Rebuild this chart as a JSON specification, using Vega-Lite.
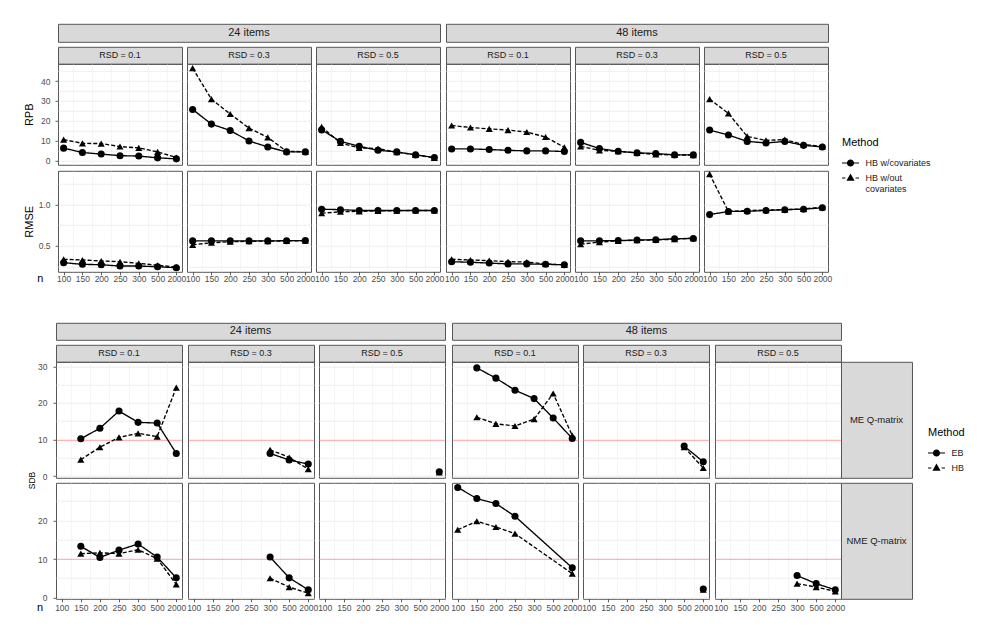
{
"$schema":"https://vega.github.io/schema/vega-lite/v6.json",
"background":"white",
"autosize":{"type":"pad"},
"padding":{"left":0,"top":22.8,"right":5,"bottom":5},
"data":{"values":[]},
"datasets":{
"t":[
{"items":24,"rsd":0.1,"metric":"RPB","Method":"HB w/covariates","n":100,"v":6.2},
{"items":24,"rsd":0.1,"metric":"RPB","Method":"HB w/covariates","n":150,"v":4.0},
{"items":24,"rsd":0.1,"metric":"RPB","Method":"HB w/covariates","n":200,"v":3.2},
{"items":24,"rsd":0.1,"metric":"RPB","Method":"HB w/covariates","n":250,"v":2.4},
{"items":24,"rsd":0.1,"metric":"RPB","Method":"HB w/covariates","n":300,"v":2.2},
{"items":24,"rsd":0.1,"metric":"RPB","Method":"HB w/covariates","n":500,"v":1.3},
{"items":24,"rsd":0.1,"metric":"RPB","Method":"HB w/covariates","n":2000,"v":0.8},
{"items":24,"rsd":0.1,"metric":"RPB","Method":"HB w/out covariates","n":100,"v":10.5},
{"items":24,"rsd":0.1,"metric":"RPB","Method":"HB w/out covariates","n":150,"v":8.6},
{"items":24,"rsd":0.1,"metric":"RPB","Method":"HB w/out covariates","n":200,"v":8.5},
{"items":24,"rsd":0.1,"metric":"RPB","Method":"HB w/out covariates","n":250,"v":7.0},
{"items":24,"rsd":0.1,"metric":"RPB","Method":"HB w/out covariates","n":300,"v":6.3},
{"items":24,"rsd":0.1,"metric":"RPB","Method":"HB w/out covariates","n":500,"v":4.3},
{"items":24,"rsd":0.1,"metric":"RPB","Method":"HB w/out covariates","n":2000,"v":1.5},
{"items":24,"rsd":0.3,"metric":"RPB","Method":"HB w/covariates","n":100,"v":25.7},
{"items":24,"rsd":0.3,"metric":"RPB","Method":"HB w/covariates","n":150,"v":18.3},
{"items":24,"rsd":0.3,"metric":"RPB","Method":"HB w/covariates","n":200,"v":15.1},
{"items":24,"rsd":0.3,"metric":"RPB","Method":"HB w/covariates","n":250,"v":9.8},
{"items":24,"rsd":0.3,"metric":"RPB","Method":"HB w/covariates","n":300,"v":6.8},
{"items":24,"rsd":0.3,"metric":"RPB","Method":"HB w/covariates","n":500,"v":4.3},
{"items":24,"rsd":0.3,"metric":"RPB","Method":"HB w/covariates","n":2000,"v":4.3},
{"items":24,"rsd":0.3,"metric":"RPB","Method":"HB w/out covariates","n":100,"v":46.5},
{"items":24,"rsd":0.3,"metric":"RPB","Method":"HB w/out covariates","n":150,"v":30.9},
{"items":24,"rsd":0.3,"metric":"RPB","Method":"HB w/out covariates","n":200,"v":23.4},
{"items":24,"rsd":0.3,"metric":"RPB","Method":"HB w/out covariates","n":250,"v":16.3},
{"items":24,"rsd":0.3,"metric":"RPB","Method":"HB w/out covariates","n":300,"v":11.6},
{"items":24,"rsd":0.3,"metric":"RPB","Method":"HB w/out covariates","n":500,"v":4.6},
{"items":24,"rsd":0.3,"metric":"RPB","Method":"HB w/out covariates","n":2000,"v":4.4},
{"items":24,"rsd":0.5,"metric":"RPB","Method":"HB w/covariates","n":100,"v":15.4},
{"items":24,"rsd":0.5,"metric":"RPB","Method":"HB w/covariates","n":150,"v":9.6},
{"items":24,"rsd":0.5,"metric":"RPB","Method":"HB w/covariates","n":200,"v":7.1},
{"items":24,"rsd":0.5,"metric":"RPB","Method":"HB w/covariates","n":250,"v":5.1},
{"items":24,"rsd":0.5,"metric":"RPB","Method":"HB w/covariates","n":300,"v":4.3},
{"items":24,"rsd":0.5,"metric":"RPB","Method":"HB w/covariates","n":500,"v":2.8},
{"items":24,"rsd":0.5,"metric":"RPB","Method":"HB w/covariates","n":2000,"v":1.5},
{"items":24,"rsd":0.5,"metric":"RPB","Method":"HB w/out covariates","n":100,"v":16.9},
{"items":24,"rsd":0.5,"metric":"RPB","Method":"HB w/out covariates","n":150,"v":8.8},
{"items":24,"rsd":0.5,"metric":"RPB","Method":"HB w/out covariates","n":200,"v":6.3},
{"items":24,"rsd":0.5,"metric":"RPB","Method":"HB w/out covariates","n":250,"v":6.0},
{"items":24,"rsd":0.5,"metric":"RPB","Method":"HB w/out covariates","n":300,"v":4.1},
{"items":24,"rsd":0.5,"metric":"RPB","Method":"HB w/out covariates","n":500,"v":2.8},
{"items":24,"rsd":0.5,"metric":"RPB","Method":"HB w/out covariates","n":2000,"v":1.3},
{"items":48,"rsd":0.1,"metric":"RPB","Method":"HB w/covariates","n":100,"v":5.8},
{"items":48,"rsd":0.1,"metric":"RPB","Method":"HB w/covariates","n":150,"v":5.8},
{"items":48,"rsd":0.1,"metric":"RPB","Method":"HB w/covariates","n":200,"v":5.5},
{"items":48,"rsd":0.1,"metric":"RPB","Method":"HB w/covariates","n":250,"v":5.1},
{"items":48,"rsd":0.1,"metric":"RPB","Method":"HB w/covariates","n":300,"v":4.8},
{"items":48,"rsd":0.1,"metric":"RPB","Method":"HB w/covariates","n":500,"v":4.8},
{"items":48,"rsd":0.1,"metric":"RPB","Method":"HB w/covariates","n":2000,"v":4.5},
{"items":48,"rsd":0.1,"metric":"RPB","Method":"HB w/out covariates","n":100,"v":17.6},
{"items":48,"rsd":0.1,"metric":"RPB","Method":"HB w/out covariates","n":150,"v":16.6},
{"items":48,"rsd":0.1,"metric":"RPB","Method":"HB w/out covariates","n":200,"v":15.9},
{"items":48,"rsd":0.1,"metric":"RPB","Method":"HB w/out covariates","n":250,"v":15.3},
{"items":48,"rsd":0.1,"metric":"RPB","Method":"HB w/out covariates","n":300,"v":14.3},
{"items":48,"rsd":0.1,"metric":"RPB","Method":"HB w/out covariates","n":500,"v":11.8},
{"items":48,"rsd":0.1,"metric":"RPB","Method":"HB w/out covariates","n":2000,"v":6.6},
{"items":48,"rsd":0.3,"metric":"RPB","Method":"HB w/covariates","n":100,"v":9.1},
{"items":48,"rsd":0.3,"metric":"RPB","Method":"HB w/covariates","n":150,"v":6.0},
{"items":48,"rsd":0.3,"metric":"RPB","Method":"HB w/covariates","n":200,"v":4.6},
{"items":48,"rsd":0.3,"metric":"RPB","Method":"HB w/covariates","n":250,"v":3.8},
{"items":48,"rsd":0.3,"metric":"RPB","Method":"HB w/covariates","n":300,"v":3.5},
{"items":48,"rsd":0.3,"metric":"RPB","Method":"HB w/covariates","n":500,"v":2.8},
{"items":48,"rsd":0.3,"metric":"RPB","Method":"HB w/covariates","n":2000,"v":2.8},
{"items":48,"rsd":0.3,"metric":"RPB","Method":"HB w/out covariates","n":100,"v":7.1},
{"items":48,"rsd":0.3,"metric":"RPB","Method":"HB w/out covariates","n":150,"v":5.1},
{"items":48,"rsd":0.3,"metric":"RPB","Method":"HB w/out covariates","n":200,"v":4.6},
{"items":48,"rsd":0.3,"metric":"RPB","Method":"HB w/out covariates","n":250,"v":3.8},
{"items":48,"rsd":0.3,"metric":"RPB","Method":"HB w/out covariates","n":300,"v":3.0},
{"items":48,"rsd":0.3,"metric":"RPB","Method":"HB w/out covariates","n":500,"v":2.8},
{"items":48,"rsd":0.3,"metric":"RPB","Method":"HB w/out covariates","n":2000,"v":2.7},
{"items":48,"rsd":0.5,"metric":"RPB","Method":"HB w/covariates","n":100,"v":15.3},
{"items":48,"rsd":0.5,"metric":"RPB","Method":"HB w/covariates","n":150,"v":12.8},
{"items":48,"rsd":0.5,"metric":"RPB","Method":"HB w/covariates","n":200,"v":9.6},
{"items":48,"rsd":0.5,"metric":"RPB","Method":"HB w/covariates","n":250,"v":8.8},
{"items":48,"rsd":0.5,"metric":"RPB","Method":"HB w/covariates","n":300,"v":9.6},
{"items":48,"rsd":0.5,"metric":"RPB","Method":"HB w/covariates","n":500,"v":7.6},
{"items":48,"rsd":0.5,"metric":"RPB","Method":"HB w/covariates","n":2000,"v":6.8},
{"items":48,"rsd":0.5,"metric":"RPB","Method":"HB w/out covariates","n":100,"v":30.9},
{"items":48,"rsd":0.5,"metric":"RPB","Method":"HB w/out covariates","n":150,"v":23.7},
{"items":48,"rsd":0.5,"metric":"RPB","Method":"HB w/out covariates","n":200,"v":12.1},
{"items":48,"rsd":0.5,"metric":"RPB","Method":"HB w/out covariates","n":250,"v":10.1},
{"items":48,"rsd":0.5,"metric":"RPB","Method":"HB w/out covariates","n":300,"v":10.5},
{"items":48,"rsd":0.5,"metric":"RPB","Method":"HB w/out covariates","n":500,"v":8.0},
{"items":48,"rsd":0.5,"metric":"RPB","Method":"HB w/out covariates","n":2000,"v":7.1},
{"items":24,"rsd":0.1,"metric":"RMSE","Method":"HB w/covariates","n":100,"v":0.295},
{"items":24,"rsd":0.1,"metric":"RMSE","Method":"HB w/covariates","n":150,"v":0.275},
{"items":24,"rsd":0.1,"metric":"RMSE","Method":"HB w/covariates","n":200,"v":0.27},
{"items":24,"rsd":0.1,"metric":"RMSE","Method":"HB w/covariates","n":250,"v":0.254},
{"items":24,"rsd":0.1,"metric":"RMSE","Method":"HB w/covariates","n":300,"v":0.254},
{"items":24,"rsd":0.1,"metric":"RMSE","Method":"HB w/covariates","n":500,"v":0.246},
{"items":24,"rsd":0.1,"metric":"RMSE","Method":"HB w/covariates","n":2000,"v":0.233},
{"items":24,"rsd":0.1,"metric":"RMSE","Method":"HB w/out covariates","n":100,"v":0.336},
{"items":24,"rsd":0.1,"metric":"RMSE","Method":"HB w/out covariates","n":150,"v":0.328},
{"items":24,"rsd":0.1,"metric":"RMSE","Method":"HB w/out covariates","n":200,"v":0.316},
{"items":24,"rsd":0.1,"metric":"RMSE","Method":"HB w/out covariates","n":250,"v":0.307},
{"items":24,"rsd":0.1,"metric":"RMSE","Method":"HB w/out covariates","n":300,"v":0.287},
{"items":24,"rsd":0.1,"metric":"RMSE","Method":"HB w/out covariates","n":500,"v":0.263},
{"items":24,"rsd":0.1,"metric":"RMSE","Method":"HB w/out covariates","n":2000,"v":0.242},
{"items":24,"rsd":0.3,"metric":"RMSE","Method":"HB w/covariates","n":100,"v":0.56},
{"items":24,"rsd":0.3,"metric":"RMSE","Method":"HB w/covariates","n":150,"v":0.56},
{"items":24,"rsd":0.3,"metric":"RMSE","Method":"HB w/covariates","n":200,"v":0.56},
{"items":24,"rsd":0.3,"metric":"RMSE","Method":"HB w/covariates","n":250,"v":0.56},
{"items":24,"rsd":0.3,"metric":"RMSE","Method":"HB w/covariates","n":300,"v":0.56},
{"items":24,"rsd":0.3,"metric":"RMSE","Method":"HB w/covariates","n":500,"v":0.562},
{"items":24,"rsd":0.3,"metric":"RMSE","Method":"HB w/covariates","n":2000,"v":0.565},
{"items":24,"rsd":0.3,"metric":"RMSE","Method":"HB w/out covariates","n":100,"v":0.512},
{"items":24,"rsd":0.3,"metric":"RMSE","Method":"HB w/out covariates","n":150,"v":0.537},
{"items":24,"rsd":0.3,"metric":"RMSE","Method":"HB w/out covariates","n":200,"v":0.55},
{"items":24,"rsd":0.3,"metric":"RMSE","Method":"HB w/out covariates","n":250,"v":0.555},
{"items":24,"rsd":0.3,"metric":"RMSE","Method":"HB w/out covariates","n":300,"v":0.558},
{"items":24,"rsd":0.3,"metric":"RMSE","Method":"HB w/out covariates","n":500,"v":0.56},
{"items":24,"rsd":0.3,"metric":"RMSE","Method":"HB w/out covariates","n":2000,"v":0.562},
{"items":24,"rsd":0.5,"metric":"RMSE","Method":"HB w/covariates","n":100,"v":0.946},
{"items":24,"rsd":0.5,"metric":"RMSE","Method":"HB w/covariates","n":150,"v":0.94},
{"items":24,"rsd":0.5,"metric":"RMSE","Method":"HB w/covariates","n":200,"v":0.93},
{"items":24,"rsd":0.5,"metric":"RMSE","Method":"HB w/covariates","n":250,"v":0.93},
{"items":24,"rsd":0.5,"metric":"RMSE","Method":"HB w/covariates","n":300,"v":0.93},
{"items":24,"rsd":0.5,"metric":"RMSE","Method":"HB w/covariates","n":500,"v":0.93},
{"items":24,"rsd":0.5,"metric":"RMSE","Method":"HB w/covariates","n":2000,"v":0.93},
{"items":24,"rsd":0.5,"metric":"RMSE","Method":"HB w/out covariates","n":100,"v":0.897},
{"items":24,"rsd":0.5,"metric":"RMSE","Method":"HB w/out covariates","n":150,"v":0.914},
{"items":24,"rsd":0.5,"metric":"RMSE","Method":"HB w/out covariates","n":200,"v":0.92},
{"items":24,"rsd":0.5,"metric":"RMSE","Method":"HB w/out covariates","n":250,"v":0.925},
{"items":24,"rsd":0.5,"metric":"RMSE","Method":"HB w/out covariates","n":300,"v":0.928},
{"items":24,"rsd":0.5,"metric":"RMSE","Method":"HB w/out covariates","n":500,"v":0.93},
{"items":24,"rsd":0.5,"metric":"RMSE","Method":"HB w/out covariates","n":2000,"v":0.93},
{"items":48,"rsd":0.1,"metric":"RMSE","Method":"HB w/covariates","n":100,"v":0.307},
{"items":48,"rsd":0.1,"metric":"RMSE","Method":"HB w/covariates","n":150,"v":0.3},
{"items":48,"rsd":0.1,"metric":"RMSE","Method":"HB w/covariates","n":200,"v":0.29},
{"items":48,"rsd":0.1,"metric":"RMSE","Method":"HB w/covariates","n":250,"v":0.28},
{"items":48,"rsd":0.1,"metric":"RMSE","Method":"HB w/covariates","n":300,"v":0.28},
{"items":48,"rsd":0.1,"metric":"RMSE","Method":"HB w/covariates","n":500,"v":0.275},
{"items":48,"rsd":0.1,"metric":"RMSE","Method":"HB w/covariates","n":2000,"v":0.27},
{"items":48,"rsd":0.1,"metric":"RMSE","Method":"HB w/out covariates","n":100,"v":0.336},
{"items":48,"rsd":0.1,"metric":"RMSE","Method":"HB w/out covariates","n":150,"v":0.328},
{"items":48,"rsd":0.1,"metric":"RMSE","Method":"HB w/out covariates","n":200,"v":0.32},
{"items":48,"rsd":0.1,"metric":"RMSE","Method":"HB w/out covariates","n":250,"v":0.307},
{"items":48,"rsd":0.1,"metric":"RMSE","Method":"HB w/out covariates","n":300,"v":0.303},
{"items":48,"rsd":0.1,"metric":"RMSE","Method":"HB w/out covariates","n":500,"v":0.28},
{"items":48,"rsd":0.1,"metric":"RMSE","Method":"HB w/out covariates","n":2000,"v":0.267},
{"items":48,"rsd":0.3,"metric":"RMSE","Method":"HB w/covariates","n":100,"v":0.561},
{"items":48,"rsd":0.3,"metric":"RMSE","Method":"HB w/covariates","n":150,"v":0.561},
{"items":48,"rsd":0.3,"metric":"RMSE","Method":"HB w/covariates","n":200,"v":0.565},
{"items":48,"rsd":0.3,"metric":"RMSE","Method":"HB w/covariates","n":250,"v":0.57},
{"items":48,"rsd":0.3,"metric":"RMSE","Method":"HB w/covariates","n":300,"v":0.575},
{"items":48,"rsd":0.3,"metric":"RMSE","Method":"HB w/covariates","n":500,"v":0.586},
{"items":48,"rsd":0.3,"metric":"RMSE","Method":"HB w/covariates","n":2000,"v":0.59},
{"items":48,"rsd":0.3,"metric":"RMSE","Method":"HB w/out covariates","n":100,"v":0.52},
{"items":48,"rsd":0.3,"metric":"RMSE","Method":"HB w/out covariates","n":150,"v":0.545},
{"items":48,"rsd":0.3,"metric":"RMSE","Method":"HB w/out covariates","n":200,"v":0.561},
{"items":48,"rsd":0.3,"metric":"RMSE","Method":"HB w/out covariates","n":250,"v":0.568},
{"items":48,"rsd":0.3,"metric":"RMSE","Method":"HB w/out covariates","n":300,"v":0.572},
{"items":48,"rsd":0.3,"metric":"RMSE","Method":"HB w/out covariates","n":500,"v":0.58},
{"items":48,"rsd":0.3,"metric":"RMSE","Method":"HB w/out covariates","n":2000,"v":0.594},
{"items":48,"rsd":0.5,"metric":"RMSE","Method":"HB w/covariates","n":100,"v":0.88},
{"items":48,"rsd":0.5,"metric":"RMSE","Method":"HB w/covariates","n":150,"v":0.918},
{"items":48,"rsd":0.5,"metric":"RMSE","Method":"HB w/covariates","n":200,"v":0.92},
{"items":48,"rsd":0.5,"metric":"RMSE","Method":"HB w/covariates","n":250,"v":0.93},
{"items":48,"rsd":0.5,"metric":"RMSE","Method":"HB w/covariates","n":300,"v":0.94},
{"items":48,"rsd":0.5,"metric":"RMSE","Method":"HB w/covariates","n":500,"v":0.946},
{"items":48,"rsd":0.5,"metric":"RMSE","Method":"HB w/covariates","n":2000,"v":0.963},
{"items":48,"rsd":0.5,"metric":"RMSE","Method":"HB w/out covariates","n":100,"v":1.372},
{"items":48,"rsd":0.5,"metric":"RMSE","Method":"HB w/out covariates","n":150,"v":0.918},
{"items":48,"rsd":0.5,"metric":"RMSE","Method":"HB w/out covariates","n":200,"v":0.93},
{"items":48,"rsd":0.5,"metric":"RMSE","Method":"HB w/out covariates","n":250,"v":0.935},
{"items":48,"rsd":0.5,"metric":"RMSE","Method":"HB w/out covariates","n":300,"v":0.94},
{"items":48,"rsd":0.5,"metric":"RMSE","Method":"HB w/out covariates","n":500,"v":0.95},
{"items":48,"rsd":0.5,"metric":"RMSE","Method":"HB w/out covariates","n":2000,"v":0.97}
],
"b":[
{"items":24,"rsd":0.1,"q":"ME","Method":"EB","n":150,"v":10.2},
{"items":24,"rsd":0.1,"q":"ME","Method":"EB","n":200,"v":13.1},
{"items":24,"rsd":0.1,"q":"ME","Method":"EB","n":250,"v":17.8},
{"items":24,"rsd":0.1,"q":"ME","Method":"EB","n":300,"v":14.7},
{"items":24,"rsd":0.1,"q":"ME","Method":"EB","n":500,"v":14.5},
{"items":24,"rsd":0.1,"q":"ME","Method":"EB","n":2000,"v":6.2},
{"items":24,"rsd":0.1,"q":"ME","Method":"HB","n":150,"v":4.5},
{"items":24,"rsd":0.1,"q":"ME","Method":"HB","n":200,"v":7.9},
{"items":24,"rsd":0.1,"q":"ME","Method":"HB","n":250,"v":10.6},
{"items":24,"rsd":0.1,"q":"ME","Method":"HB","n":300,"v":11.7},
{"items":24,"rsd":0.1,"q":"ME","Method":"HB","n":500,"v":10.8},
{"items":24,"rsd":0.1,"q":"ME","Method":"HB","n":2000,"v":24.2},
{"items":24,"rsd":0.3,"q":"ME","Method":"EB","n":300,"v":6.2},
{"items":24,"rsd":0.3,"q":"ME","Method":"EB","n":500,"v":4.4},
{"items":24,"rsd":0.3,"q":"ME","Method":"EB","n":2000,"v":3.3},
{"items":24,"rsd":0.3,"q":"ME","Method":"HB","n":300,"v":7.2},
{"items":24,"rsd":0.3,"q":"ME","Method":"HB","n":500,"v":5.1},
{"items":24,"rsd":0.3,"q":"ME","Method":"HB","n":2000,"v":1.9},
{"items":24,"rsd":0.5,"q":"ME","Method":"EB","n":2000,"v":1.2},
{"items":24,"rsd":0.5,"q":"ME","Method":"HB","n":2000,"v":1.0},
{"items":48,"rsd":0.1,"q":"ME","Method":"EB","n":150,"v":29.6},
{"items":48,"rsd":0.1,"q":"ME","Method":"EB","n":200,"v":26.8},
{"items":48,"rsd":0.1,"q":"ME","Method":"EB","n":250,"v":23.5},
{"items":48,"rsd":0.1,"q":"ME","Method":"EB","n":300,"v":21.2},
{"items":48,"rsd":0.1,"q":"ME","Method":"EB","n":500,"v":15.9},
{"items":48,"rsd":0.1,"q":"ME","Method":"EB","n":2000,"v":10.3},
{"items":48,"rsd":0.1,"q":"ME","Method":"HB","n":150,"v":16.1},
{"items":48,"rsd":0.1,"q":"ME","Method":"HB","n":200,"v":14.3},
{"items":48,"rsd":0.1,"q":"ME","Method":"HB","n":250,"v":13.7},
{"items":48,"rsd":0.1,"q":"ME","Method":"HB","n":300,"v":15.6},
{"items":48,"rsd":0.1,"q":"ME","Method":"HB","n":500,"v":22.6},
{"items":48,"rsd":0.1,"q":"ME","Method":"HB","n":2000,"v":11.1},
{"items":48,"rsd":0.3,"q":"ME","Method":"EB","n":500,"v":8.2},
{"items":48,"rsd":0.3,"q":"ME","Method":"EB","n":2000,"v":3.9},
{"items":48,"rsd":0.3,"q":"ME","Method":"HB","n":500,"v":7.9},
{"items":48,"rsd":0.3,"q":"ME","Method":"HB","n":2000,"v":2.2},
{"items":24,"rsd":0.1,"q":"NME","Method":"EB","n":150,"v":13.3},
{"items":24,"rsd":0.1,"q":"NME","Method":"EB","n":200,"v":10.4},
{"items":24,"rsd":0.1,"q":"NME","Method":"EB","n":250,"v":12.3},
{"items":24,"rsd":0.1,"q":"NME","Method":"EB","n":300,"v":13.9},
{"items":24,"rsd":0.1,"q":"NME","Method":"EB","n":500,"v":10.5},
{"items":24,"rsd":0.1,"q":"NME","Method":"EB","n":2000,"v":5.1},
{"items":24,"rsd":0.1,"q":"NME","Method":"HB","n":150,"v":11.4},
{"items":24,"rsd":0.1,"q":"NME","Method":"HB","n":200,"v":11.6},
{"items":24,"rsd":0.1,"q":"NME","Method":"HB","n":250,"v":11.4},
{"items":24,"rsd":0.1,"q":"NME","Method":"HB","n":300,"v":12.4},
{"items":24,"rsd":0.1,"q":"NME","Method":"HB","n":500,"v":10.1},
{"items":24,"rsd":0.1,"q":"NME","Method":"HB","n":2000,"v":3.4},
{"items":24,"rsd":0.3,"q":"NME","Method":"EB","n":300,"v":10.5},
{"items":24,"rsd":0.3,"q":"NME","Method":"EB","n":500,"v":5.1},
{"items":24,"rsd":0.3,"q":"NME","Method":"EB","n":2000,"v":2.0},
{"items":24,"rsd":0.3,"q":"NME","Method":"HB","n":300,"v":5.0},
{"items":24,"rsd":0.3,"q":"NME","Method":"HB","n":500,"v":2.7},
{"items":24,"rsd":0.3,"q":"NME","Method":"HB","n":2000,"v":1.1},
{"items":48,"rsd":0.1,"q":"NME","Method":"EB","n":100,"v":28.6},
{"items":48,"rsd":0.1,"q":"NME","Method":"EB","n":150,"v":25.7},
{"items":48,"rsd":0.1,"q":"NME","Method":"EB","n":200,"v":24.4},
{"items":48,"rsd":0.1,"q":"NME","Method":"EB","n":250,"v":21.1},
{"items":48,"rsd":0.1,"q":"NME","Method":"EB","n":2000,"v":7.7},
{"items":48,"rsd":0.1,"q":"NME","Method":"HB","n":100,"v":17.6},
{"items":48,"rsd":0.1,"q":"NME","Method":"HB","n":150,"v":19.8},
{"items":48,"rsd":0.1,"q":"NME","Method":"HB","n":200,"v":18.3},
{"items":48,"rsd":0.1,"q":"NME","Method":"HB","n":250,"v":16.6},
{"items":48,"rsd":0.1,"q":"NME","Method":"HB","n":2000,"v":6.2},
{"items":48,"rsd":0.3,"q":"NME","Method":"EB","n":2000,"v":2.2},
{"items":48,"rsd":0.3,"q":"NME","Method":"HB","n":2000,"v":2.0},
{"items":48,"rsd":0.5,"q":"NME","Method":"EB","n":300,"v":5.7},
{"items":48,"rsd":0.5,"q":"NME","Method":"EB","n":500,"v":3.6},
{"items":48,"rsd":0.5,"q":"NME","Method":"EB","n":2000,"v":2.0},
{"items":48,"rsd":0.5,"q":"NME","Method":"HB","n":300,"v":3.6},
{"items":48,"rsd":0.5,"q":"NME","Method":"HB","n":500,"v":2.7},
{"items":48,"rsd":0.5,"q":"NME","Method":"HB","n":2000,"v":1.6}
]},
"spacing":3,
"resolve":{"scale":{"shape":"independent","strokeDash":"independent"}},
"config":{
"font":"Liberation Sans",
"view":{"stroke":null},
"axis":{"grid":true,"gridColor":"#ebebeb","gridWidth":0.8,"domain":false,"ticks":false,"labels":false,"labelFontSize":8.5,"labelColor":"#4d4d4d","tickColor":"#333","tickSize":3,"tickWidth":0.8,"labelPadding":1,"titleFontSize":11,"titleFontWeight":"normal","titleColor":"black"},
"axisX":{"labelAngle":0,"labelOverlap":false},
"axisY":{"labelOverlap":false},
"axisPoint":{"grid":true},
"scale":{"pointPadding":0.3},
"range":{"symbol":["circle","triangle-up"]},
"line":{"color":"black","strokeWidth":1.35},
"point":{"color":"black","filled":true,"opacity":1,"size":50},
"text":{"color":"#1a1a1a"},
"legend":{"orient":"none","titleFontSize":11,"titleFontWeight":"normal","titleColor":"black","labelFontSize":9,"labelColor":"#1a1a1a","symbolSize":289,"symbolStrokeWidth":0,"symbolFillColor":"black","labelOffset":6.5,"rowPadding":1,"titlePadding":6,"padding":0}
},
"vconcat":[
{"hconcat":[
{"width":58,"height":18,"view":{"fill":"white"},"mark":"point"},
{"width":382,"height":18,"view":{"fill":"#d9d9d9","stroke":"#555"},"data":{"values":[{"t":"24 items"}]},"mark":{"type":"text","fontSize":11},"encoding":{"text":{"field":"t","type":"nominal"}}},
{"width":6,"height":1,"mark":"point"},
{"width":382,"height":18,"view":{"fill":"#d9d9d9","stroke":"#555"},"data":{"values":[{"t":"48 items"}]},"mark":{"type":"text","fontSize":11},"encoding":{"text":{"field":"t","type":"nominal"}}}
],"spacing":0,"bounds":"flush"},

{"columns":13,"spacing":0,"bounds":"flush","align":"each","resolve":{"scale":{"shape":"independent","strokeDash":"independent"}},"concat":[
{"width":58,"height":17,"view":{"fill":"white"},"mark":"point"},
{"width":124,"height":17,"view":{"fill":"#d9d9d9","stroke":"#555"},"data":{"values":[{"t":"RSD = 0.1"}]},"mark":{"type":"text","fontSize":9},"encoding":{"text":{"field":"t","type":"nominal"}}},
{"width":5,"height":1,"mark":"point"},
{"width":124,"height":17,"view":{"fill":"#d9d9d9","stroke":"#555"},"data":{"values":[{"t":"RSD = 0.3"}]},"mark":{"type":"text","fontSize":9},"encoding":{"text":{"field":"t","type":"nominal"}}},
{"width":5,"height":1,"mark":"point"},
{"width":124,"height":17,"view":{"fill":"#d9d9d9","stroke":"#555"},"data":{"values":[{"t":"RSD = 0.5"}]},"mark":{"type":"text","fontSize":9},"encoding":{"text":{"field":"t","type":"nominal"}}},
{"width":6,"height":1,"mark":"point"},
{"width":124,"height":17,"view":{"fill":"#d9d9d9","stroke":"#555"},"data":{"values":[{"t":"RSD = 0.1"}]},"mark":{"type":"text","fontSize":9},"encoding":{"text":{"field":"t","type":"nominal"}}},
{"width":5,"height":1,"mark":"point"},
{"width":124,"height":17,"view":{"fill":"#d9d9d9","stroke":"#555"},"data":{"values":[{"t":"RSD = 0.3"}]},"mark":{"type":"text","fontSize":9},"encoding":{"text":{"field":"t","type":"nominal"}}},
{"width":5,"height":1,"mark":"point"},
{"width":124,"height":17,"view":{"fill":"#d9d9d9","stroke":"#555"},"data":{"values":[{"t":"RSD = 0.5"}]},"mark":{"type":"text","fontSize":9},"encoding":{"text":{"field":"t","type":"nominal"}}},
{"width":1,"height":1,"mark":"point"},

{"width":58,"height":107,"view":{"fill":"white"},"mark":"point"},
{"width":124,"height":101,"view":{"stroke":"#555"},"resolve":{"scale":{"x":"independent"},"axis":{"x":"independent"}},"layer":[{"data":{"values":[]},"mark":"point","encoding":{"x":{"datum":1,"type":"quantitative","scale":{"domain":[0.7,7.3]},"axis":{"orient":"top","values":[1.5,2.5,3.5,4.5,5.5,6.5],"title":null,"gridWidth":0.5}}}},{"data":{"name":"t"},"transform":[{"filter":"datum.items==24&&datum.rsd==0.1&&datum.metric=='RPB'"}],"encoding":{"x":{"field":"n","type":"ordinal","title":null},"y":{"field":"v","type":"quantitative","scale":{"domain":[-2.2,48.7]},"axis":{"values":[0,5,10,15,20,25,30,35,40,45],"labels":true,"ticks":true,"labelPadding":5,"labelExpr":"datum.value%10?'':datum.label","tickOpacity":{"condition":{"test":"datum.value%10!=0","value":0},"value":1},"title":"RPB","titleX":-28.3,"titleBaseline":"middle"}}},"layer":[{"mark":"line","encoding":{"strokeDash":{"field":"Method","type":"nominal","legend":null}}},{"mark":"point","encoding":{"shape":{"field":"Method","type":"nominal","legend":null}}}]}]},
{"width":5,"height":1,"mark":"point"},
{"width":124,"height":101,"view":{"stroke":"#555"},"resolve":{"scale":{"x":"independent"},"axis":{"x":"independent"}},"layer":[{"data":{"values":[]},"mark":"point","encoding":{"x":{"datum":1,"type":"quantitative","scale":{"domain":[0.7,7.3]},"axis":{"orient":"top","values":[1.5,2.5,3.5,4.5,5.5,6.5],"title":null,"gridWidth":0.5}}}},{"data":{"name":"t"},"transform":[{"filter":"datum.items==24&&datum.rsd==0.3&&datum.metric=='RPB'"}],"encoding":{"x":{"field":"n","type":"ordinal","title":null},"y":{"field":"v","type":"quantitative","title":null,"scale":{"domain":[-2.2,48.7]},"axis":{"values":[0,5,10,15,20,25,30,35,40,45]}}},"layer":[{"mark":"line","encoding":{"strokeDash":{"field":"Method","type":"nominal","legend":null}}},{"mark":"point","encoding":{"shape":{"field":"Method","type":"nominal","legend":null}}}]}]},
{"width":5,"height":1,"mark":"point"},
{"width":124,"height":101,"view":{"stroke":"#555"},"resolve":{"scale":{"x":"independent"},"axis":{"x":"independent"}},"layer":[{"data":{"values":[]},"mark":"point","encoding":{"x":{"datum":1,"type":"quantitative","scale":{"domain":[0.7,7.3]},"axis":{"orient":"top","values":[1.5,2.5,3.5,4.5,5.5,6.5],"title":null,"gridWidth":0.5}}}},{"data":{"name":"t"},"transform":[{"filter":"datum.items==24&&datum.rsd==0.5&&datum.metric=='RPB'"}],"encoding":{"x":{"field":"n","type":"ordinal","title":null},"y":{"field":"v","type":"quantitative","title":null,"scale":{"domain":[-2.2,48.7]},"axis":{"values":[0,5,10,15,20,25,30,35,40,45]}}},"layer":[{"mark":"line","encoding":{"strokeDash":{"field":"Method","type":"nominal","legend":null}}},{"mark":"point","encoding":{"shape":{"field":"Method","type":"nominal","legend":null}}}]}]},
{"width":6,"height":1,"mark":"point"},
{"width":124,"height":101,"view":{"stroke":"#555"},"resolve":{"scale":{"x":"independent"},"axis":{"x":"independent"}},"layer":[{"data":{"values":[]},"mark":"point","encoding":{"x":{"datum":1,"type":"quantitative","scale":{"domain":[0.7,7.3]},"axis":{"orient":"top","values":[1.5,2.5,3.5,4.5,5.5,6.5],"title":null,"gridWidth":0.5}}}},{"data":{"name":"t"},"transform":[{"filter":"datum.items==48&&datum.rsd==0.1&&datum.metric=='RPB'"}],"encoding":{"x":{"field":"n","type":"ordinal","title":null},"y":{"field":"v","type":"quantitative","title":null,"scale":{"domain":[-2.2,48.7]},"axis":{"values":[0,5,10,15,20,25,30,35,40,45]}}},"layer":[{"mark":"line","encoding":{"strokeDash":{"field":"Method","type":"nominal","legend":null}}},{"mark":"point","encoding":{"shape":{"field":"Method","type":"nominal","legend":null}}}]}]},
{"width":5,"height":1,"mark":"point"},
{"width":124,"height":101,"view":{"stroke":"#555"},"resolve":{"scale":{"x":"independent"},"axis":{"x":"independent"}},"layer":[{"data":{"values":[]},"mark":"point","encoding":{"x":{"datum":1,"type":"quantitative","scale":{"domain":[0.7,7.3]},"axis":{"orient":"top","values":[1.5,2.5,3.5,4.5,5.5,6.5],"title":null,"gridWidth":0.5}}}},{"data":{"name":"t"},"transform":[{"filter":"datum.items==48&&datum.rsd==0.3&&datum.metric=='RPB'"}],"encoding":{"x":{"field":"n","type":"ordinal","title":null},"y":{"field":"v","type":"quantitative","title":null,"scale":{"domain":[-2.2,48.7]},"axis":{"values":[0,5,10,15,20,25,30,35,40,45]}}},"layer":[{"mark":"line","encoding":{"strokeDash":{"field":"Method","type":"nominal","legend":null}}},{"mark":"point","encoding":{"shape":{"field":"Method","type":"nominal","legend":null}}}]}]},
{"width":5,"height":1,"mark":"point"},
{"width":124,"height":101,"view":{"stroke":"#555"},"resolve":{"scale":{"x":"independent"},"axis":{"x":"independent"}},"layer":[{"data":{"values":[]},"mark":"point","encoding":{"x":{"datum":1,"type":"quantitative","scale":{"domain":[0.7,7.3]},"axis":{"orient":"top","values":[1.5,2.5,3.5,4.5,5.5,6.5],"title":null,"gridWidth":0.5}}}},{"data":{"name":"t"},"transform":[{"filter":"datum.items==48&&datum.rsd==0.5&&datum.metric=='RPB'"}],"encoding":{"x":{"field":"n","type":"ordinal","title":null},"y":{"field":"v","type":"quantitative","title":null,"scale":{"domain":[-2.2,48.7]},"axis":{"values":[0,5,10,15,20,25,30,35,40,45]}}},"layer":[{"mark":"line","encoding":{"strokeDash":{"field":"Method","type":"nominal","legend":null}}},{"mark":"point","encoding":{"shape":{"field":"Method","type":"nominal","legend":null}}}]}]},
{"width":1,"height":1,"mark":{"type":"point","filled":true,"color":"black","size":289},"encoding":{"shape":{"field":"Method","type":"nominal","scale":{"domain":["HB w/covariates","HB w/out covariates"],"range":["M-1,-0.07H1V0.07H-1ZM0.42,0A0.42,0.42,0,1,1,-0.42,0A0.42,0.42,0,1,1,0.42,0Z","M-1,-0.07H-0.6V0.07H-1ZM0.6,-0.07H1V0.07H0.6ZM0,-0.52L0.48,0.32H-0.48Z"]},"legend":{"title":"Method","legendX":14,"legendY":73.7,"symbolSize":289,"labelExpr":"datum.label=='HB w/out covariates'?['HB w/out','covariates']:datum.label"}}}},

{"width":58,"height":148,"view":{"fill":"white"},"mark":"point"},
{"width":124,"height":101,"view":{"stroke":"#555"},"resolve":{"scale":{"x":"independent"},"axis":{"x":"independent"}},"layer":[{"data":{"values":[]},"mark":"point","encoding":{"x":{"datum":1,"type":"quantitative","scale":{"domain":[0.7,7.3]},"axis":{"orient":"top","values":[1.5,2.5,3.5,4.5,5.5,6.5],"title":null,"gridWidth":0.5}}}},{"data":{"name":"t"},"transform":[{"filter":"datum.items==24&&datum.rsd==0.1&&datum.metric=='RMSE'"}],"encoding":{"x":{"field":"n","type":"ordinal","axis":{"labels":true,"ticks":true,"labelPadding":0,"title":"n","titleX":-18.3,"titleY":6.7,"titleBaseline":"middle","titleAlign":"center"}},"y":{"field":"v","type":"quantitative","scale":{"domain":[0.184,1.413]},"axis":{"values":[0.25,0.5,0.75,1,1.25],"labels":true,"ticks":true,"labelPadding":5,"labelExpr":"datum.value==0.5||datum.value==1?format(datum.value,'.1f'):''","tickOpacity":{"condition":{"test":"datum.value!=0.5&&datum.value!=1","value":0},"value":1},"title":"RMSE","titleX":-28.3,"titleBaseline":"middle"}}},"layer":[{"mark":"line","encoding":{"strokeDash":{"field":"Method","type":"nominal","legend":null}}},{"mark":"point","encoding":{"shape":{"field":"Method","type":"nominal","legend":null}}}]}]},
{"width":5,"height":1,"mark":"point"},
{"width":124,"height":101,"view":{"stroke":"#555"},"resolve":{"scale":{"x":"independent"},"axis":{"x":"independent"}},"layer":[{"data":{"values":[]},"mark":"point","encoding":{"x":{"datum":1,"type":"quantitative","scale":{"domain":[0.7,7.3]},"axis":{"orient":"top","values":[1.5,2.5,3.5,4.5,5.5,6.5],"title":null,"gridWidth":0.5}}}},{"data":{"name":"t"},"transform":[{"filter":"datum.items==24&&datum.rsd==0.3&&datum.metric=='RMSE'"}],"encoding":{"x":{"field":"n","type":"ordinal","title":null,"axis":{"labels":true,"ticks":true,"labelPadding":0}},"y":{"field":"v","type":"quantitative","title":null,"scale":{"domain":[0.184,1.413]},"axis":{"values":[0.25,0.5,0.75,1,1.25]}}},"layer":[{"mark":"line","encoding":{"strokeDash":{"field":"Method","type":"nominal","legend":null}}},{"mark":"point","encoding":{"shape":{"field":"Method","type":"nominal","legend":null}}}]}]},
{"width":5,"height":1,"mark":"point"},
{"width":124,"height":101,"view":{"stroke":"#555"},"resolve":{"scale":{"x":"independent"},"axis":{"x":"independent"}},"layer":[{"data":{"values":[]},"mark":"point","encoding":{"x":{"datum":1,"type":"quantitative","scale":{"domain":[0.7,7.3]},"axis":{"orient":"top","values":[1.5,2.5,3.5,4.5,5.5,6.5],"title":null,"gridWidth":0.5}}}},{"data":{"name":"t"},"transform":[{"filter":"datum.items==24&&datum.rsd==0.5&&datum.metric=='RMSE'"}],"encoding":{"x":{"field":"n","type":"ordinal","title":null,"axis":{"labels":true,"ticks":true,"labelPadding":0}},"y":{"field":"v","type":"quantitative","title":null,"scale":{"domain":[0.184,1.413]},"axis":{"values":[0.25,0.5,0.75,1,1.25]}}},"layer":[{"mark":"line","encoding":{"strokeDash":{"field":"Method","type":"nominal","legend":null}}},{"mark":"point","encoding":{"shape":{"field":"Method","type":"nominal","legend":null}}}]}]},
{"width":6,"height":1,"mark":"point"},
{"width":124,"height":101,"view":{"stroke":"#555"},"resolve":{"scale":{"x":"independent"},"axis":{"x":"independent"}},"layer":[{"data":{"values":[]},"mark":"point","encoding":{"x":{"datum":1,"type":"quantitative","scale":{"domain":[0.7,7.3]},"axis":{"orient":"top","values":[1.5,2.5,3.5,4.5,5.5,6.5],"title":null,"gridWidth":0.5}}}},{"data":{"name":"t"},"transform":[{"filter":"datum.items==48&&datum.rsd==0.1&&datum.metric=='RMSE'"}],"encoding":{"x":{"field":"n","type":"ordinal","title":null,"axis":{"labels":true,"ticks":true,"labelPadding":0}},"y":{"field":"v","type":"quantitative","title":null,"scale":{"domain":[0.184,1.413]},"axis":{"values":[0.25,0.5,0.75,1,1.25]}}},"layer":[{"mark":"line","encoding":{"strokeDash":{"field":"Method","type":"nominal","legend":null}}},{"mark":"point","encoding":{"shape":{"field":"Method","type":"nominal","legend":null}}}]}]},
{"width":5,"height":1,"mark":"point"},
{"width":124,"height":101,"view":{"stroke":"#555"},"resolve":{"scale":{"x":"independent"},"axis":{"x":"independent"}},"layer":[{"data":{"values":[]},"mark":"point","encoding":{"x":{"datum":1,"type":"quantitative","scale":{"domain":[0.7,7.3]},"axis":{"orient":"top","values":[1.5,2.5,3.5,4.5,5.5,6.5],"title":null,"gridWidth":0.5}}}},{"data":{"name":"t"},"transform":[{"filter":"datum.items==48&&datum.rsd==0.3&&datum.metric=='RMSE'"}],"encoding":{"x":{"field":"n","type":"ordinal","title":null,"axis":{"labels":true,"ticks":true,"labelPadding":0}},"y":{"field":"v","type":"quantitative","title":null,"scale":{"domain":[0.184,1.413]},"axis":{"values":[0.25,0.5,0.75,1,1.25]}}},"layer":[{"mark":"line","encoding":{"strokeDash":{"field":"Method","type":"nominal","legend":null}}},{"mark":"point","encoding":{"shape":{"field":"Method","type":"nominal","legend":null}}}]}]},
{"width":5,"height":1,"mark":"point"},
{"width":124,"height":101,"view":{"stroke":"#555"},"resolve":{"scale":{"x":"independent"},"axis":{"x":"independent"}},"layer":[{"data":{"values":[]},"mark":"point","encoding":{"x":{"datum":1,"type":"quantitative","scale":{"domain":[0.7,7.3]},"axis":{"orient":"top","values":[1.5,2.5,3.5,4.5,5.5,6.5],"title":null,"gridWidth":0.5}}}},{"data":{"name":"t"},"transform":[{"filter":"datum.items==48&&datum.rsd==0.5&&datum.metric=='RMSE'"}],"encoding":{"x":{"field":"n","type":"ordinal","title":null,"axis":{"labels":true,"ticks":true,"labelPadding":0}},"y":{"field":"v","type":"quantitative","title":null,"scale":{"domain":[0.184,1.413]},"axis":{"values":[0.25,0.5,0.75,1,1.25]}}},"layer":[{"mark":"line","encoding":{"strokeDash":{"field":"Method","type":"nominal","legend":null}}},{"mark":"point","encoding":{"shape":{"field":"Method","type":"nominal","legend":null}}}]}]},
{"width":1,"height":1,"mark":"point"}
]},

{"hconcat":[
{"width":56,"height":17,"view":{"fill":"white"},"mark":"point"},
{"width":389,"height":17,"view":{"fill":"#d9d9d9","stroke":"#555"},"data":{"values":[{"t":"24 items"}]},"mark":{"type":"text","fontSize":11},"encoding":{"text":{"field":"t","type":"nominal"}}},
{"width":7,"height":1,"mark":"point"},
{"width":389,"height":17,"view":{"fill":"#d9d9d9","stroke":"#555"},"data":{"values":[{"t":"48 items"}]},"mark":{"type":"text","fontSize":11},"encoding":{"text":{"field":"t","type":"nominal"}}}
],"spacing":0,"bounds":"flush"},

{"columns":13,"spacing":0,"bounds":"flush","align":"each","resolve":{"scale":{"shape":"independent","strokeDash":"independent"}},"concat":[
{"width":56,"height":17,"view":{"fill":"white"},"mark":"point"},
{"width":126,"height":17,"view":{"fill":"#d9d9d9","stroke":"#555"},"data":{"values":[{"t":"RSD = 0.1"}]},"mark":{"type":"text","fontSize":9},"encoding":{"text":{"field":"t","type":"nominal"}}},
{"width":6,"height":1,"mark":"point"},
{"width":126,"height":17,"view":{"fill":"#d9d9d9","stroke":"#555"},"data":{"values":[{"t":"RSD = 0.3"}]},"mark":{"type":"text","fontSize":9},"encoding":{"text":{"field":"t","type":"nominal"}}},
{"width":5,"height":1,"mark":"point"},
{"width":126,"height":17,"view":{"fill":"#d9d9d9","stroke":"#555"},"data":{"values":[{"t":"RSD = 0.5"}]},"mark":{"type":"text","fontSize":9},"encoding":{"text":{"field":"t","type":"nominal"}}},
{"width":7,"height":1,"mark":"point"},
{"width":126,"height":17,"view":{"fill":"#d9d9d9","stroke":"#555"},"data":{"values":[{"t":"RSD = 0.1"}]},"mark":{"type":"text","fontSize":9},"encoding":{"text":{"field":"t","type":"nominal"}}},
{"width":5,"height":1,"mark":"point"},
{"width":126,"height":17,"view":{"fill":"#d9d9d9","stroke":"#555"},"data":{"values":[{"t":"RSD = 0.3"}]},"mark":{"type":"text","fontSize":9},"encoding":{"text":{"field":"t","type":"nominal"}}},
{"width":6,"height":1,"mark":"point"},
{"width":126,"height":17,"view":{"fill":"#d9d9d9","stroke":"#555"},"data":{"values":[{"t":"RSD = 0.5"}]},"mark":{"type":"text","fontSize":9},"encoding":{"text":{"field":"t","type":"nominal"}}},
{"width":1,"height":1,"mark":"point"},

{"width":56,"height":121,"view":{"fill":"white"},"mark":"point"},
{"width":126,"height":116,"view":{"stroke":"#555"},"resolve":{"scale":{"x":"independent"},"axis":{"x":"independent"}},"layer":[{"data":{"values":[]},"mark":"point","encoding":{"x":{"datum":1,"type":"quantitative","scale":{"domain":[0.7,7.3]},"axis":{"orient":"top","values":[1.5,2.5,3.5,4.5,5.5,6.5],"title":null,"gridWidth":0.5}}}},{"data":{"name":"b"},"transform":[{"filter":"datum.items==24&&datum.rsd==0.1&&datum.q=='ME'"}],"encoding":{"x":{"field":"n","type":"ordinal","title":null,"scale":{"domain":[100,150,200,250,300,500,2000]}},"y":{"field":"v","type":"quantitative","title":null,"scale":{"domain":[-0.47,31.27]},"axis":{"values":[0,5,10,15,20,25,30],"gridColor":{"condition":{"test":"datum.value==10","value":"#f88"},"value":"#ebebeb"},"labels":true,"ticks":true,"labelPadding":6,"labelExpr":"datum.value%10?'':datum.label","tickOpacity":{"condition":{"test":"datum.value%10!=0","value":0},"value":1}}}},"layer":[{"mark":"line","encoding":{"strokeDash":{"field":"Method","type":"nominal","legend":null}}},{"mark":"point","encoding":{"shape":{"field":"Method","type":"nominal","legend":null}}}]}]},
{"width":6,"height":1,"mark":"point"},
{"width":126,"height":116,"view":{"stroke":"#555"},"resolve":{"scale":{"x":"independent"},"axis":{"x":"independent"}},"layer":[{"data":{"values":[]},"mark":"point","encoding":{"x":{"datum":1,"type":"quantitative","scale":{"domain":[0.7,7.3]},"axis":{"orient":"top","values":[1.5,2.5,3.5,4.5,5.5,6.5],"title":null,"gridWidth":0.5}}}},{"data":{"name":"b"},"transform":[{"filter":"datum.items==24&&datum.rsd==0.3&&datum.q=='ME'"}],"encoding":{"x":{"field":"n","type":"ordinal","title":null,"scale":{"domain":[100,150,200,250,300,500,2000]}},"y":{"field":"v","type":"quantitative","title":null,"scale":{"domain":[-0.47,31.27]},"axis":{"values":[0,5,10,15,20,25,30],"gridColor":{"condition":{"test":"datum.value==10","value":"#f88"},"value":"#ebebeb"}}}},"layer":[{"mark":"line","encoding":{"strokeDash":{"field":"Method","type":"nominal","legend":null}}},{"mark":"point","encoding":{"shape":{"field":"Method","type":"nominal","legend":null}}}]}]},
{"width":5,"height":1,"mark":"point"},
{"width":126,"height":116,"view":{"stroke":"#555"},"resolve":{"scale":{"x":"independent"},"axis":{"x":"independent"}},"layer":[{"data":{"values":[]},"mark":"point","encoding":{"x":{"datum":1,"type":"quantitative","scale":{"domain":[0.7,7.3]},"axis":{"orient":"top","values":[1.5,2.5,3.5,4.5,5.5,6.5],"title":null,"gridWidth":0.5}}}},{"data":{"name":"b"},"transform":[{"filter":"datum.items==24&&datum.rsd==0.5&&datum.q=='ME'"}],"encoding":{"x":{"field":"n","type":"ordinal","title":null,"scale":{"domain":[100,150,200,250,300,500,2000]}},"y":{"field":"v","type":"quantitative","title":null,"scale":{"domain":[-0.47,31.27]},"axis":{"values":[0,5,10,15,20,25,30],"gridColor":{"condition":{"test":"datum.value==10","value":"#f88"},"value":"#ebebeb"}}}},"layer":[{"mark":"line","encoding":{"strokeDash":{"field":"Method","type":"nominal","legend":null}}},{"mark":"point","encoding":{"shape":{"field":"Method","type":"nominal","legend":null}}}]}]},
{"width":7,"height":1,"mark":"point"},
{"width":126,"height":116,"view":{"stroke":"#555"},"resolve":{"scale":{"x":"independent"},"axis":{"x":"independent"}},"layer":[{"data":{"values":[]},"mark":"point","encoding":{"x":{"datum":1,"type":"quantitative","scale":{"domain":[0.7,7.3]},"axis":{"orient":"top","values":[1.5,2.5,3.5,4.5,5.5,6.5],"title":null,"gridWidth":0.5}}}},{"data":{"name":"b"},"transform":[{"filter":"datum.items==48&&datum.rsd==0.1&&datum.q=='ME'"}],"encoding":{"x":{"field":"n","type":"ordinal","title":null,"scale":{"domain":[100,150,200,250,300,500,2000]}},"y":{"field":"v","type":"quantitative","title":null,"scale":{"domain":[-0.47,31.27]},"axis":{"values":[0,5,10,15,20,25,30],"gridColor":{"condition":{"test":"datum.value==10","value":"#f88"},"value":"#ebebeb"}}}},"layer":[{"mark":"line","encoding":{"strokeDash":{"field":"Method","type":"nominal","legend":null}}},{"mark":"point","encoding":{"shape":{"field":"Method","type":"nominal","legend":null}}}]}]},
{"width":5,"height":1,"mark":"point"},
{"width":126,"height":116,"view":{"stroke":"#555"},"resolve":{"scale":{"x":"independent"},"axis":{"x":"independent"}},"layer":[{"data":{"values":[]},"mark":"point","encoding":{"x":{"datum":1,"type":"quantitative","scale":{"domain":[0.7,7.3]},"axis":{"orient":"top","values":[1.5,2.5,3.5,4.5,5.5,6.5],"title":null,"gridWidth":0.5}}}},{"data":{"name":"b"},"transform":[{"filter":"datum.items==48&&datum.rsd==0.3&&datum.q=='ME'"}],"encoding":{"x":{"field":"n","type":"ordinal","title":null,"scale":{"domain":[100,150,200,250,300,500,2000]}},"y":{"field":"v","type":"quantitative","title":null,"scale":{"domain":[-0.47,31.27]},"axis":{"values":[0,5,10,15,20,25,30],"gridColor":{"condition":{"test":"datum.value==10","value":"#f88"},"value":"#ebebeb"}}}},"layer":[{"mark":"line","encoding":{"strokeDash":{"field":"Method","type":"nominal","legend":null}}},{"mark":"point","encoding":{"shape":{"field":"Method","type":"nominal","legend":null}}}]}]},
{"width":6,"height":1,"mark":"point"},
{"width":126,"height":116,"view":{"stroke":"#555"},"resolve":{"scale":{"x":"independent"},"axis":{"x":"independent"}},"layer":[{"data":{"values":[]},"mark":"point","encoding":{"x":{"datum":1,"type":"quantitative","scale":{"domain":[0.7,7.3]},"axis":{"orient":"top","values":[1.5,2.5,3.5,4.5,5.5,6.5],"title":null,"gridWidth":0.5}}}},{"data":{"name":"b"},"transform":[{"filter":"datum.items==48&&datum.rsd==0.5&&datum.q=='ME'"}],"encoding":{"x":{"field":"n","type":"ordinal","title":null,"scale":{"domain":[100,150,200,250,300,500,2000]}},"y":{"field":"v","type":"quantitative","title":null,"scale":{"domain":[-0.47,31.27]},"axis":{"values":[0,5,10,15,20,25,30],"gridColor":{"condition":{"test":"datum.value==10","value":"#f88"},"value":"#ebebeb"}}}},"layer":[{"mark":"line","encoding":{"strokeDash":{"field":"Method","type":"nominal","legend":null}}},{"mark":"point","encoding":{"shape":{"field":"Method","type":"nominal","legend":null}}}]}]},
{"width":71,"height":116,"view":{"fill":"#d9d9d9","stroke":"#555"},"layer":[{"data":{"values":[{"t":"ME Q-matrix"}]},"mark":{"type":"text","fontSize":9.5},"encoding":{"text":{"field":"t","type":"nominal"}}},{"mark":{"type":"point","filled":true,"color":"black","size":289},"encoding":{"shape":{"field":"Method","type":"nominal","scale":{"domain":["EB","HB"],"range":["M-1,-0.07H1V0.07H-1ZM0.42,0A0.42,0.42,0,1,1,-0.42,0A0.42,0.42,0,1,1,0.42,0Z","M-1,-0.07H-0.6V0.07H-1ZM0.6,-0.07H1V0.07H0.6ZM0,-0.52L0.48,0.32H-0.48Z"]},"legend":{"title":"Method","legendX":87,"legendY":65.7,"symbolSize":289}}}}]},

{"width":56,"height":116,"view":{"fill":"white"},"mark":"point"},
{"width":126,"height":116,"view":{"stroke":"#555"},"resolve":{"scale":{"x":"independent"},"axis":{"x":"independent"}},"layer":[{"data":{"values":[]},"mark":"point","encoding":{"x":{"datum":1,"type":"quantitative","scale":{"domain":[0.7,7.3]},"axis":{"orient":"top","values":[1.5,2.5,3.5,4.5,5.5,6.5],"title":null,"gridWidth":0.5}}}},{"data":{"name":"b"},"transform":[{"filter":"datum.items==24&&datum.rsd==0.1&&datum.q=='NME'"}],"encoding":{"x":{"field":"n","type":"ordinal","scale":{"domain":[100,150,200,250,300,500,2000]},"axis":{"labels":true,"ticks":true,"labelPadding":1.5,"title":"n","titleX":-16.4,"titleY":9,"titleBaseline":"middle","titleAlign":"center"}},"y":{"field":"v","type":"quantitative","scale":{"domain":[-0.34,29.8]},"axis":{"values":[0,5,10,15,20,25],"gridColor":{"condition":{"test":"datum.value==10","value":"#f88"},"value":"#ebebeb"},"labels":true,"ticks":true,"labelPadding":6,"labelExpr":"datum.value%10?'':datum.label","tickOpacity":{"condition":{"test":"datum.value%10!=0","value":0},"value":1},"title":"SDB","titleX":-24.9,"titleY":-2.8,"titleBaseline":"middle","titleAlign":"center","titleFontSize":8.5}}},"layer":[{"mark":"line","encoding":{"strokeDash":{"field":"Method","type":"nominal","legend":null}}},{"mark":"point","encoding":{"shape":{"field":"Method","type":"nominal","legend":null}}}]}]},
{"width":6,"height":1,"mark":"point"},
{"width":126,"height":116,"view":{"stroke":"#555"},"resolve":{"scale":{"x":"independent"},"axis":{"x":"independent"}},"layer":[{"data":{"values":[]},"mark":"point","encoding":{"x":{"datum":1,"type":"quantitative","scale":{"domain":[0.7,7.3]},"axis":{"orient":"top","values":[1.5,2.5,3.5,4.5,5.5,6.5],"title":null,"gridWidth":0.5}}}},{"data":{"name":"b"},"transform":[{"filter":"datum.items==24&&datum.rsd==0.3&&datum.q=='NME'"}],"encoding":{"x":{"field":"n","type":"ordinal","title":null,"scale":{"domain":[100,150,200,250,300,500,2000]},"axis":{"labels":true,"ticks":true,"labelPadding":1.5}},"y":{"field":"v","type":"quantitative","title":null,"scale":{"domain":[-0.34,29.8]},"axis":{"values":[0,5,10,15,20,25],"gridColor":{"condition":{"test":"datum.value==10","value":"#f88"},"value":"#ebebeb"}}}},"layer":[{"mark":"line","encoding":{"strokeDash":{"field":"Method","type":"nominal","legend":null}}},{"mark":"point","encoding":{"shape":{"field":"Method","type":"nominal","legend":null}}}]}]},
{"width":5,"height":1,"mark":"point"},
{"width":126,"height":116,"view":{"stroke":"#555"},"resolve":{"scale":{"x":"independent"},"axis":{"x":"independent"}},"layer":[{"data":{"values":[]},"mark":"point","encoding":{"x":{"datum":1,"type":"quantitative","scale":{"domain":[0.7,7.3]},"axis":{"orient":"top","values":[1.5,2.5,3.5,4.5,5.5,6.5],"title":null,"gridWidth":0.5}}}},{"data":{"name":"b"},"transform":[{"filter":"datum.items==24&&datum.rsd==0.5&&datum.q=='NME'"}],"encoding":{"x":{"field":"n","type":"ordinal","title":null,"scale":{"domain":[100,150,200,250,300,500,2000]},"axis":{"labels":true,"ticks":true,"labelPadding":1.5}},"y":{"field":"v","type":"quantitative","title":null,"scale":{"domain":[-0.34,29.8]},"axis":{"values":[0,5,10,15,20,25],"gridColor":{"condition":{"test":"datum.value==10","value":"#f88"},"value":"#ebebeb"}}}},"layer":[{"mark":"line","encoding":{"strokeDash":{"field":"Method","type":"nominal","legend":null}}},{"mark":"point","encoding":{"shape":{"field":"Method","type":"nominal","legend":null}}}]}]},
{"width":7,"height":1,"mark":"point"},
{"width":126,"height":116,"view":{"stroke":"#555"},"resolve":{"scale":{"x":"independent"},"axis":{"x":"independent"}},"layer":[{"data":{"values":[]},"mark":"point","encoding":{"x":{"datum":1,"type":"quantitative","scale":{"domain":[0.7,7.3]},"axis":{"orient":"top","values":[1.5,2.5,3.5,4.5,5.5,6.5],"title":null,"gridWidth":0.5}}}},{"data":{"name":"b"},"transform":[{"filter":"datum.items==48&&datum.rsd==0.1&&datum.q=='NME'"}],"encoding":{"x":{"field":"n","type":"ordinal","title":null,"scale":{"domain":[100,150,200,250,300,500,2000]},"axis":{"labels":true,"ticks":true,"labelPadding":1.5}},"y":{"field":"v","type":"quantitative","title":null,"scale":{"domain":[-0.34,29.8]},"axis":{"values":[0,5,10,15,20,25],"gridColor":{"condition":{"test":"datum.value==10","value":"#f88"},"value":"#ebebeb"}}}},"layer":[{"mark":"line","encoding":{"strokeDash":{"field":"Method","type":"nominal","legend":null}}},{"mark":"point","encoding":{"shape":{"field":"Method","type":"nominal","legend":null}}}]}]},
{"width":5,"height":1,"mark":"point"},
{"width":126,"height":116,"view":{"stroke":"#555"},"resolve":{"scale":{"x":"independent"},"axis":{"x":"independent"}},"layer":[{"data":{"values":[]},"mark":"point","encoding":{"x":{"datum":1,"type":"quantitative","scale":{"domain":[0.7,7.3]},"axis":{"orient":"top","values":[1.5,2.5,3.5,4.5,5.5,6.5],"title":null,"gridWidth":0.5}}}},{"data":{"name":"b"},"transform":[{"filter":"datum.items==48&&datum.rsd==0.3&&datum.q=='NME'"}],"encoding":{"x":{"field":"n","type":"ordinal","title":null,"scale":{"domain":[100,150,200,250,300,500,2000]},"axis":{"labels":true,"ticks":true,"labelPadding":1.5}},"y":{"field":"v","type":"quantitative","title":null,"scale":{"domain":[-0.34,29.8]},"axis":{"values":[0,5,10,15,20,25],"gridColor":{"condition":{"test":"datum.value==10","value":"#f88"},"value":"#ebebeb"}}}},"layer":[{"mark":"line","encoding":{"strokeDash":{"field":"Method","type":"nominal","legend":null}}},{"mark":"point","encoding":{"shape":{"field":"Method","type":"nominal","legend":null}}}]}]},
{"width":6,"height":1,"mark":"point"},
{"width":126,"height":116,"view":{"stroke":"#555"},"resolve":{"scale":{"x":"independent"},"axis":{"x":"independent"}},"layer":[{"data":{"values":[]},"mark":"point","encoding":{"x":{"datum":1,"type":"quantitative","scale":{"domain":[0.7,7.3]},"axis":{"orient":"top","values":[1.5,2.5,3.5,4.5,5.5,6.5],"title":null,"gridWidth":0.5}}}},{"data":{"name":"b"},"transform":[{"filter":"datum.items==48&&datum.rsd==0.5&&datum.q=='NME'"}],"encoding":{"x":{"field":"n","type":"ordinal","title":null,"scale":{"domain":[100,150,200,250,300,500,2000]},"axis":{"labels":true,"ticks":true,"labelPadding":1.5}},"y":{"field":"v","type":"quantitative","title":null,"scale":{"domain":[-0.34,29.8]},"axis":{"values":[0,5,10,15,20,25],"gridColor":{"condition":{"test":"datum.value==10","value":"#f88"},"value":"#ebebeb"}}}},"layer":[{"mark":"line","encoding":{"strokeDash":{"field":"Method","type":"nominal","legend":null}}},{"mark":"point","encoding":{"shape":{"field":"Method","type":"nominal","legend":null}}}]}]},
{"width":71,"height":116,"view":{"fill":"#d9d9d9","stroke":"#555"},"data":{"values":[{"t":"NME Q-matrix"}]},"mark":{"type":"text","fontSize":9.5},"encoding":{"text":{"field":"t","type":"nominal"}}}
]}
]
}
